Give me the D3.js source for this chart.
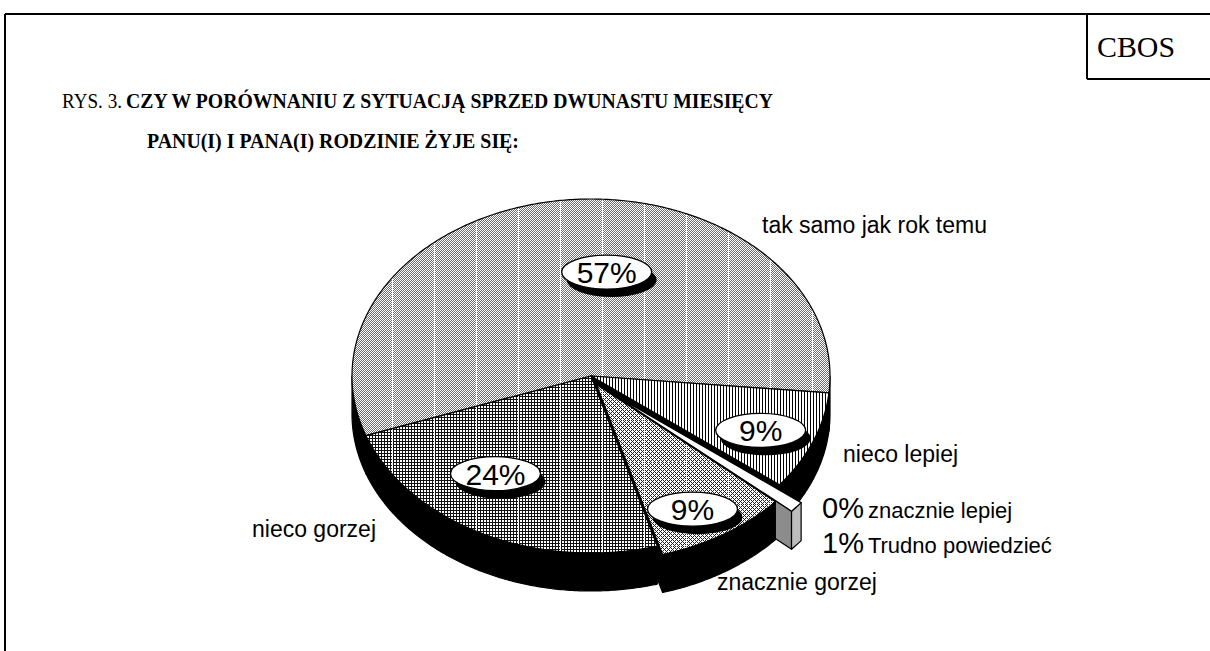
<!DOCTYPE html>
<html>
<head>
<meta charset="utf-8">
<script src="https://cdn.jsdelivr.net/npm/d3@7"></script>
<style>
  body { margin: 0; background: #fff; }
  svg { display: block; }
</style>
</head>
<body>
<svg id="chart" width="1210" height="651"></svg>
<script>
// slices, clockwise from the right edge of the pie
const categories = ["nieco lepiej", "znacznie lepiej", "Trudno powiedzieć", "znacznie gorzej", "nieco gorzej", "tak samo jak rok temu"];
const values = [9, 0, 1, 9, 24, 57];
const pctLabels = ["9%", "0%", "1%", "9%", "24%", "57%"];

const titleNo = "RYS. 3.";
const titleLines = ["CZY W PORÓWNANIU Z SYTUACJĄ SPRZED DWUNASTU MIESIĘCY", "PANU(I) I  PANA(I) RODZINIE ŻYJE SIĘ:"];

const svg = d3.select("#chart");
const serif = "'Liberation Serif','Times New Roman',serif";
const sans = "'Liberation Sans',Arial,sans-serif";

// ---- frame + CBOS box
const frame = svg.append("g").attr("stroke", "#000").attr("stroke-width", 2);
frame.append("line").attr("x1", 5).attr("y1", 14).attr("x2", 1210).attr("y2", 14);
frame.append("line").attr("x1", 5).attr("y1", 14).attr("x2", 5).attr("y2", 651);
frame.append("line").attr("x1", 1087).attr("y1", 14).attr("x2", 1087).attr("y2", 79);
frame.append("line").attr("x1", 1087).attr("y1", 79).attr("x2", 1210).attr("y2", 79);
svg.append("text").attr("x", 1136).attr("y", 57).attr("text-anchor", "middle")
    .attr("textLength", 78).attr("lengthAdjust", "spacingAndGlyphs")
    .style("font-family", serif).style("font-size", "30px").text("CBOS");

// ---- title (condensed like the scanned original)
svg.append("text").attr("x", 62).attr("y", 108).attr("textLength", 60).attr("lengthAdjust", "spacingAndGlyphs")
    .style("font-family", serif).style("font-size", "21px").text(titleNo);
svg.append("text").attr("x", 126).attr("y", 108).attr("textLength", 647).attr("lengthAdjust", "spacingAndGlyphs")
    .style("font-family", serif).style("font-size", "21px").style("font-weight", "bold").text(titleLines[0]);
svg.append("text").attr("x", 147).attr("y", 148).attr("textLength", 372).attr("lengthAdjust", "spacingAndGlyphs")
    .style("font-family", serif).style("font-size", "21px").style("font-weight", "bold").text(titleLines[1]);

// ---- patterns
const defs = svg.append("defs");
function tile(id, w, h) {
    const p = defs.append("pattern").attr("id", id).attr("patternUnits", "userSpaceOnUse")
        .attr("width", w).attr("height", h);
    p.append("rect").attr("width", w).attr("height", h).attr("fill", "#fff");
    return p;
}
function px(p, x, y, w, h, c) {
    p.append("rect").attr("x", x).attr("y", y).attr("width", w).attr("height", h).attr("fill", c);
}
let p = tile("dither", 2, 2);
px(p, 0, 0, 1, 1, "#6e6e6e"); px(p, 1, 1, 1, 1, "#6e6e6e");
p = tile("grid", 3, 3);
px(p, 0, 0, 3, 1, "#111"); px(p, 0, 0, 1, 3, "#111");
p = tile("net", 4, 4);
[[0, 0], [1, 1], [2, 2], [3, 3], [0, 2], [2, 0]].forEach(d => px(p, d[0], d[1], 1, 1, "#222"));
p = tile("stripes", 3, 3);
px(p, 0, 0, 1, 3, "#000");
// scanner seams: thin white verticals every 42px
function seamed(id, base) {
    const s = defs.append("pattern").attr("id", id).attr("patternUnits", "userSpaceOnUse")
        .attr("x", 15).attr("width", 42).attr("height", 42);
    s.append("rect").attr("width", 42).attr("height", 42).attr("fill", "url(#" + base + ")");
    s.append("rect").attr("x", 41).attr("width", 1).attr("height", 42).attr("fill", "#fff");
}
seamed("pTak", "dither");
seamed("pGrid", "grid");
seamed("pNet", "net");

// ---- 3D pie
const cx = 591, cy = 376, rx = 239, ry = 177, depth = 38;
const startT = 5.5 * Math.PI / 180;
const explodeBy = {"Trudno powiedzieć": 28, "znacznie gorzej": 10};
const topFill = {
    "nieco lepiej": "url(#stripes)",
    "znacznie lepiej": "#fff",
    "Trudno powiedzieć": "#fff",
    "znacznie gorzej": "url(#pNet)",
    "nieco gorzej": "url(#pGrid)",
    "tak samo jak rok temu": "url(#pTak)"
};
const sideFill = {"Trudno powiedzieć": {radial: "#8c8c8c", outer: "#bdbdbd"}};

const rows = categories.map((c, i) => ({cat: c, value: values[i], pct: pctLabels[i]}));
const total = d3.sum(values);
// d3 angles are used directly as the ellipse parameter (0 = right, clockwise on screen)
const arcs = d3.pie().sort(null).value(d => d.value)
    .startAngle(startT).endAngle(startT + 2 * Math.PI)(rows);

arcs.forEach(a => {
    a.mid = (a.startAngle + a.endAngle) / 2;
    const e = explodeBy[a.data.cat] || 0;
    a.ox = e * Math.cos(a.mid);
    a.oy = e * Math.sin(a.mid);
});

const line = d3.line();
function rim(a, t, dz) {
    return [cx + a.ox + rx * Math.cos(t), cy + a.oy + ry * Math.sin(t) + dz];
}
function arcPts(a, t0, t1, dz) {
    const n = Math.max(2, Math.ceil(Math.abs(t1 - t0) / 0.01));
    return d3.range(n + 1).map(i => rim(a, t0 + (t1 - t0) * i / n, dz));
}

const pieG = svg.append("g").attr("stroke", "#000").attr("stroke-width", 1.2).attr("stroke-linejoin", "round");

arcs.filter(a => a.value > 0)
    .sort((a, b) => Math.sin(a.mid) - Math.sin(b.mid))
    .forEach(a => {
        const g = pieG.append("g");
        const sides = sideFill[a.data.cat] || {radial: "#000", outer: "#000"};
        const apex = [cx + a.ox, cy + a.oy], apexD = [apex[0], apex[1] + depth];
        // radial walls that face the viewer
        if (Math.cos(a.startAngle) < 0) {
            g.append("path").attr("fill", sides.radial)
                .attr("d", line([apex, rim(a, a.startAngle, 0), rim(a, a.startAngle, depth), apexD]) + "Z");
        }
        if (Math.cos(a.endAngle) > 0) {
            g.append("path").attr("fill", sides.radial)
                .attr("d", line([apex, rim(a, a.endAngle, 0), rim(a, a.endAngle, depth), apexD]) + "Z");
        }
        // outer wall, front half only
        [0, 2 * Math.PI].forEach(k => {
            const lo = Math.max(a.startAngle, k), hi = Math.min(a.endAngle, k + Math.PI);
            if (hi > lo) {
                const pts = arcPts(a, lo, hi, 0).concat(arcPts(a, hi, lo, depth));
                g.append("path").attr("fill", sides.outer).attr("d", line(pts) + "Z");
            }
        });
        // top face
        g.append("path").attr("fill", topFill[a.data.cat])
            .attr("d", line([apex].concat(arcPts(a, a.startAngle, a.endAngle, 0))) + "Z");
    });

// ---- percentage badges inside the bigger slices
// anchored at the slice's mid angle, nudged where the original placed them by hand
const badgeNudge = {
    "tak samo jak rok temu": [34, 5],
    "nieco gorzej": [-28, 0],
    "nieco lepiej": [-8, 2],
    "znacznie gorzej": [-6, 5]
};
const badge = svg.append("g");
arcs.filter(a => a.value / total >= 0.05).forEach(a => {
    const f = a.value / total < 0.15 ? 0.8 : 0.62;
    const n = badgeNudge[a.data.cat] || [0, 0];
    const bx = cx + a.ox + rx * f * Math.cos(a.mid) + n[0];
    const by = cy + a.oy + ry * f * Math.sin(a.mid) + n[1];
    badge.append("ellipse").attr("cx", bx + 5).attr("cy", by + 8).attr("rx", 45).attr("ry", 17).attr("fill", "#000");
    badge.append("ellipse").attr("cx", bx).attr("cy", by).attr("rx", 45).attr("ry", 17)
        .attr("fill", "#fff").attr("stroke", "#000").attr("stroke-width", 1.3);
    badge.append("text").attr("x", bx).attr("y", by + 11).attr("text-anchor", "middle")
        .style("font-family", sans).style("font-size", "30px").text(a.data.pct);
});

// ---- category labels
const catPos = {
    "tak samo jak rok temu": [762, 233],
    "nieco lepiej": [843, 462],
    "znacznie gorzej": [717, 590],
    "nieco gorzej": [252, 537]
};
const labels = svg.append("g").style("font-family", sans).style("font-size", "23px");
rows.forEach(r => {
    if (catPos[r.cat]) {
        labels.append("text").attr("x", catPos[r.cat][0]).attr("y", catPos[r.cat][1]).text(r.cat);
    }
});
// small slices: value + name side by side
const smallPos = {"znacznie lepiej": [822, 518], "Trudno powiedzieć": [822, 553]};
rows.filter(r => smallPos[r.cat]).forEach(r => {
    const t = labels.append("text").attr("x", smallPos[r.cat][0]).attr("y", smallPos[r.cat][1]);
    t.append("tspan").style("font-size", "29px").text(r.pct);
    t.append("tspan").attr("dx", 4).style("font-size", "22px").text(r.cat);
});
</script>
</body>
</html>
